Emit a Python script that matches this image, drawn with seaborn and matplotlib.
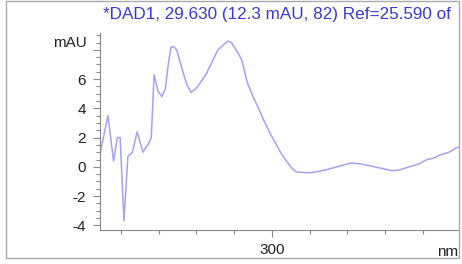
import pandas as pd
import matplotlib.pyplot as plt
import matplotlib.ticker as mticker
from matplotlib.patches import Rectangle
import seaborn as sns

# wavelength (nm) and absorbance (mAU)
wavelength = [209, 213, 216, 218, 219.5, 221.5, 223.6, 226, 228.5, 231.6,
              235, 236, 237.5, 239.5, 241.6, 243.5, 245, 246.5, 248, 249.5,
              251, 253, 255, 257, 259.5, 262, 265, 267, 269.5, 271.4,
              274, 276.7, 278.5, 280, 282, 284, 287, 290, 292, 296,
              299, 301.6, 305, 308, 311, 313, 318, 321, 329, 336,
              342, 347, 352, 358, 364, 368, 373, 378, 382, 386,
              389, 394, 398, 399.3]
absorbance = [1.0, 3.5, 0.4, 2.0, 2.0, -3.7, 0.7, 1.0, 2.4, 1.0,
              1.7, 2.0, 6.3, 5.2, 4.8, 5.35, 7.0, 8.2, 8.2, 8.0,
              7.3, 6.4, 5.6, 5.1, 5.3, 5.75, 6.3, 6.85, 7.5, 8.0,
              8.3, 8.6, 8.5, 8.2, 7.8, 7.3, 5.75, 4.8, 4.25, 3.1,
              2.3, 1.7, 0.9, 0.35, -0.15, -0.35, -0.4, -0.4, -0.2, 0.05,
              0.27, 0.2, 0.07, -0.1, -0.27, -0.2, 0.0, 0.2, 0.48, 0.6,
              0.8, 1.0, 1.3, 1.35]
ytick_vals = [-4, -2, 0, 2, 4, 6, 8]
ytick_text = ['-4', '-2', '0', '2', '4', '6', '']

df = pd.DataFrame({'nm': wavelength, 'mAU': absorbance})

sns.set_style('ticks')
plt.rcParams['font.family'] = ['Liberation Sans', 'DejaVu Sans']

fig = plt.figure(figsize=(4.62, 2.64), dpi=100)
ax = fig.add_axes([100 / 462, 34 / 264, 359 / 462, 197 / 264])
sns.lineplot(data=df, x='nm', y='mAU', ax=ax, color='#a3a3f0', lw=1.1)

ax.set_xlim(208.8, 399.3)
ax.set_ylim(-4.32, 9.15)
ax.xaxis.set_major_locator(mticker.MultipleLocator(100))
ax.xaxis.set_minor_locator(mticker.MultipleLocator(20))
ax.set_yticks(ytick_vals)
ax.set_yticklabels(ytick_text)
ax.yaxis.set_minor_locator(mticker.MultipleLocator(0.5))
ax.set_xlabel('')
ax.set_ylabel('')

for s in ['top', 'right']:
    ax.spines[s].set_visible(False)
for s in ['left', 'bottom']:
    ax.spines[s].set_color('#888888')
    ax.spines[s].set_linewidth(0.8)
ax.tick_params(axis='both', which='both', color='#888888', width=0.8,
               labelsize=11, labelcolor='#222222')
ax.tick_params(axis='y', which='major', length=5, pad=5)
ax.tick_params(axis='y', which='minor', length=3)
ax.tick_params(axis='x', which='major', length=5, pad=4)
ax.tick_params(axis='x', which='minor', length=3)

fig.text(87 / 462, 1 - 43 / 264, 'mAU', ha='right', va='center',
         fontsize=11, color='#222222')
fig.text(458 / 462, 1 - 252 / 264, 'nm', ha='right', va='center',
         fontsize=11, color='#222222')
fig.text(103 / 462, 1 - 15 / 264, '*DAD1, 29.630 (12.3 mAU, 82) Ref=25.590 of',
         ha='left', va='center', fontsize=12.3, color='#3a3ad0')

fig.patches.append(Rectangle((6 / 462, 6 / 264), 453 / 462, 257 / 264,
                             transform=fig.transFigure, fill=False,
                             edgecolor='#aaaaaa', lw=1.0))

fig.savefig('out.png', dpi=100)
